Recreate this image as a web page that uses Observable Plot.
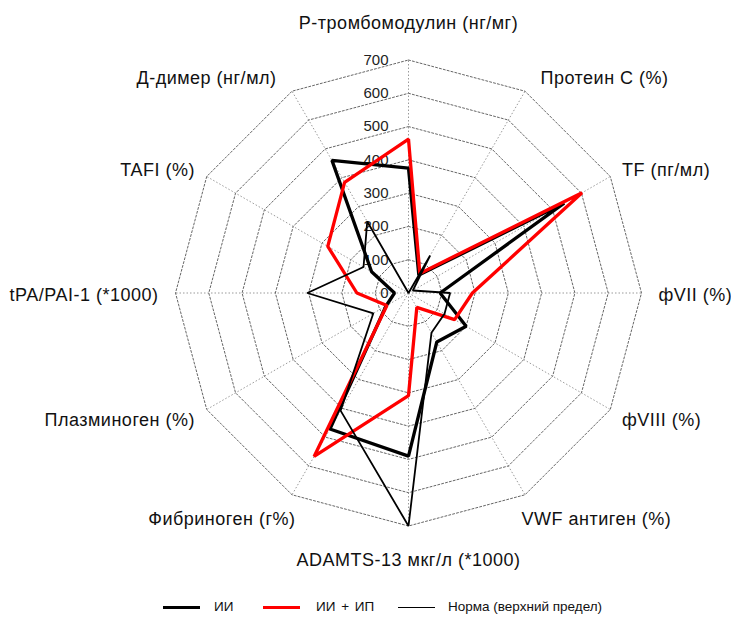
<!DOCTYPE html>
<html><head><meta charset="utf-8">
<script src="https://cdn.jsdelivr.net/npm/d3@7"></script>
<script src="https://cdn.jsdelivr.net/npm/@observablehq/plot@0.6"></script>
<style>
body{margin:0;background:#fff;font-family:"Liberation Sans",Arial,sans-serif;}
#chart{width:731px;height:590px;}
#legend{position:relative;width:731px;height:31px;}
.item{position:absolute;top:1px;height:31px;display:flex;align-items:center;font-size:13.5px;color:#111;white-space:nowrap}
.sw{position:absolute;height:0}
</style></head><body>
<div id="chart"></div>
<div id="legend"></div>
<script>
// ---- data ----
const categories = ["P-тромбомодулин (нг/мг)", "Протеин C (%)", "TF (пг/мл)", "фVII (%)", "фVIII (%)", "VWF антиген (%)", "ADAMTS-13 мкг/л (*1000)", "Фибриноген (г%)", "Плазминоген (%)", "tPA/PAI-1 (*1000)", "TAFI (%)", "Д-димер (нг/мл)"];
const seriesNames = ["ИИ", "ИИ + ИП", "Норма (верхний предел)"];
const valuesII   = [375, 62, 540, 95, 200, 170, 490, 472, 78, 42, 128, 460];
const valuesIIIP = [462, 68, 602, 192, 160, 50, 308, 567, 75, 155, 280, 384];
const valuesNorm = [0, 130, 15, 125, 125, 138, 700, 408, 122, 304, 156, 248];
const ringTicks = [0, 100, 200, 300, 400, 500, 600, 700];

// ---- layout ----
const W = 731, H = 590, cx = 408, cy = 292.5, Rpx = 233, vmax = 700;
const k = Rpx / vmax;
const n = categories.length;
const ang = i => i * 2 * Math.PI / n;
const px = (v, i) => v * Math.sin(ang(i));
const py = (v, i) => v * Math.cos(ang(i));

const rings = [];
ringTicks.filter(t => t > 0).forEach(t => {
  for (let i = 0; i < n; i++) rings.push({ring: t, x: px(t, i), y: py(t, i)});
});
const spokes = categories.map((c, i) => ({x: px(vmax, i), y: py(vmax, i)}));

const seriesVals = [valuesII, valuesIIIP, valuesNorm];
const rows = [];
seriesNames.forEach((s, si) => seriesVals[si].forEach((v, i) => rows.push({series: s, cat: categories[i], x: px(v, i), y: py(v, i)})));

const labelR = 250 / k;
const labels = categories.map((c, i) => {
  const s = Math.sin(ang(i)), co = Math.cos(ang(i));
  let anchor = Math.abs(s) < 0.1 ? "middle" : (s > 0 ? "start" : "end");
  let dy = 2, dx = 0;
  if (Math.abs(co) > 0.99) dy = co > 0 ? -20 : 17;
  else if (co < -0.8) { dy = 10; dx = -12 * Math.sign(s); }
  else if (co > 0.8) { dx = 7 * Math.sign(s); }
  else if (Math.abs(co) > 0.3) { dx = -3 * Math.sign(s); }
  return {text: c, x: px(labelR, i), y: py(labelR, i), anchor, dx, dy};
});

const colors = {"ИИ": "#000", "ИИ + ИП": "#ff0000", "Норма (верхний предел)": "#000"};
const widths = {"ИИ": 3.3, "ИИ + ИП": 3.3, "Норма (верхний предел)": 1.8};

const marks = [
  Plot.link(spokes, {x1: () => 0, y1: () => 0, x2: "x", y2: "y", stroke: "#9a9a9a", strokeWidth: 1, strokeDasharray: "1.5,2"}),
  Plot.line(rings, {x: "x", y: "y", z: "ring", curve: "linear-closed", stroke: "#666", strokeWidth: 1, strokeDasharray: "2,2"}),
  Plot.text(ringTicks, {x: () => 0, y: d => d, text: d => String(d), textAnchor: "end", dx: -20, fontSize: 15, fill: "#222"}),
  ...seriesNames.map(s => Plot.line(rows.filter(r => r.series === s), {x: "x", y: "y", curve: "linear-closed", stroke: colors[s], strokeWidth: widths[s], strokeLinejoin: "miter"})),
  ...labels.map(l => Plot.text([l], {x: "x", y: "y", text: "text", textAnchor: l.anchor, dx: l.dx, dy: l.dy, fontSize: 18, fill: "#111"}))
];

const chart = Plot.plot({
  width: W, height: H, margin: 0,
  x: {domain: [-cx / k, (W - cx) / k], axis: null},
  y: {domain: [-(H - cy) / k, cy / k], axis: null},
  style: {fontFamily: '"Liberation Sans", Arial, sans-serif', background: "#fff", overflow: "visible"},
  marks
});
d3.select(chart).selectAll("text").filter(function() { return categories.includes(this.textContent); }).attr("letter-spacing", "0.5px");
document.getElementById("chart").appendChild(chart);

// ---- legend ----
const leg = document.getElementById("legend");
const legLayout = [{sw: 163, tx: 214}, {sw: 263, tx: 316}, {sw: 398, tx: 448}];
seriesNames.forEach((s, i) => {
  const sw = document.createElement("div");
  sw.className = "sw";
  sw.style.left = legLayout[i].sw + "px";
  sw.style.width = "37px";
  sw.style.borderTop = widths[s] + "px solid " + colors[s];
  sw.style.top = (18 - widths[s] / 2) + "px";
  leg.appendChild(sw);
  const t = document.createElement("div");
  t.className = "item";
  t.style.left = legLayout[i].tx + "px";
  t.style.wordSpacing = i === 1 ? "2px" : "0";
  t.textContent = s;
  leg.appendChild(t);
});
</script>
</body></html>
